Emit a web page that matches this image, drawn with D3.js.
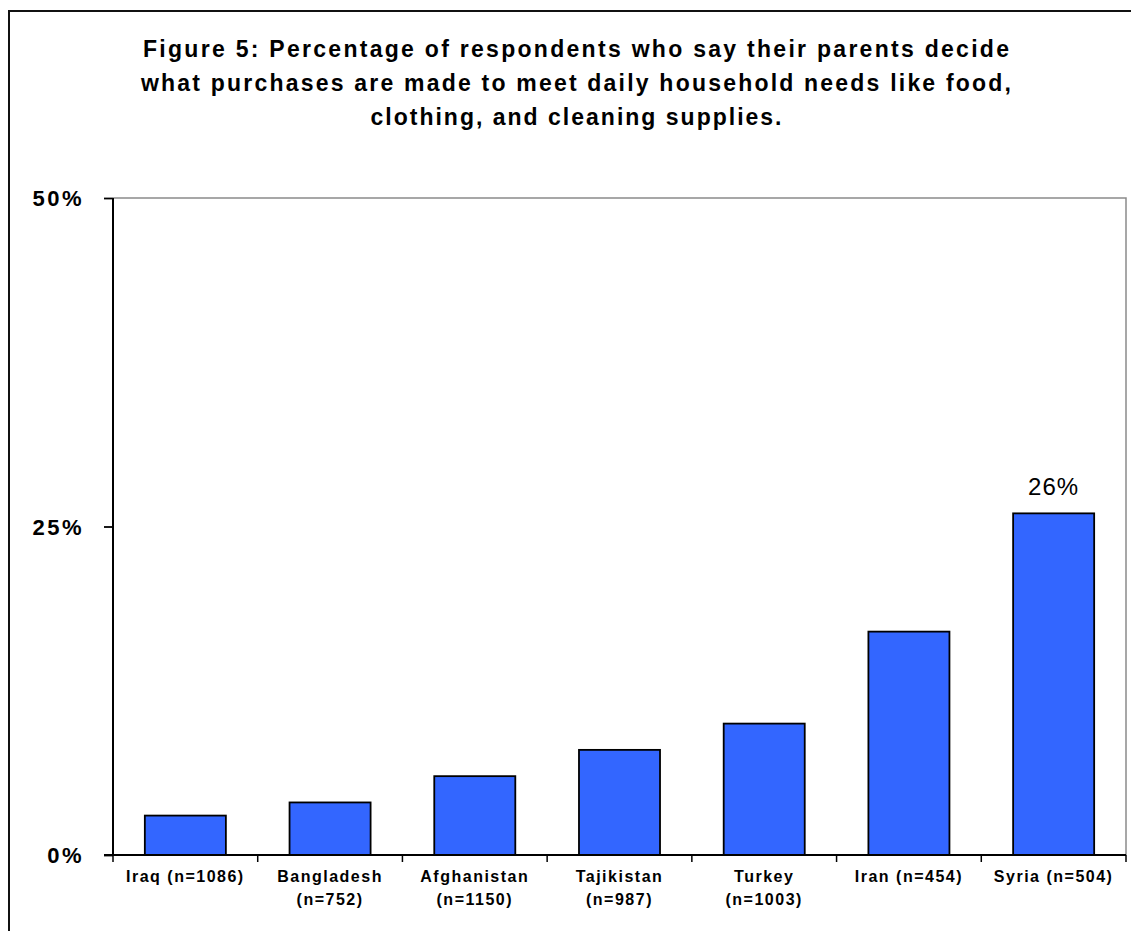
<!DOCTYPE html>
<html>
<head>
<meta charset="utf-8">
<script src="https://cdn.jsdelivr.net/npm/d3@7"></script>
<style>
  html, body { margin: 0; padding: 0; background: #fff; }
  svg { display: block; font-family: "Liberation Sans", Arial, Helvetica, sans-serif; }
</style>
</head>
<body>
<svg id="chart" width="1131" height="931"></svg>
<script>
// Chart data
const titleLines = [
  "Figure 5:  Percentage of respondents who say their parents decide",
  "what purchases are made to meet daily household needs like food,",
  "clothing, and cleaning supplies."
];
const categories = ["Iraq", "Bangladesh", "Afghanistan", "Tajikistan", "Turkey", "Iran", "Syria"];
const categoryLabels = [
  ["Iraq (n=1086)"],
  ["Bangladesh", "(n=752)"],
  ["Afghanistan", "(n=1150)"],
  ["Tajikistan", "(n=987)"],
  ["Turkey", "(n=1003)"],
  ["Iran (n=454)"],
  ["Syria (n=504)"]
];
const values = [3, 4, 6, 8, 10, 17, 26];
const labelledBars = ["Syria"];
const yTicks = [0, 25, 50];

const svg = d3.select("#chart");

// Layout
const plot = { left: 113, right: 1126, top: 198, bottom: 855 };
const titleCenter = 576;
const titleWidths = [866, 870, 411];

// Outer frame (runs off the right and bottom edge)
svg.append("rect")
  .attr("x", 9).attr("y", 11)
  .attr("width", 1200).attr("height", 1000)
  .attr("fill", "none").attr("stroke", "#111").attr("stroke-width", 2);

// Title
svg.append("g").selectAll("text").data(titleLines).join("text")
  .attr("x", titleCenter)
  .attr("y", (d, i) => 57 + i * 34)
  .attr("text-anchor", "middle")
  .attr("font-size", 23)
  .attr("font-weight", "bold")
  .attr("fill", "#000")
  .attr("textLength", (d, i) => titleWidths[i])
  .attr("lengthAdjust", "spacing")
  .text(d => d);

// Scales
const x = d3.scaleBand()
  .domain(categories)
  .range([plot.left, plot.right])
  .paddingInner(0.44)
  .paddingOuter(0.22);

const y = d3.scaleLinear()
  .domain([0, 50])
  .range([plot.bottom, plot.top]);

// Plot area border (top and right, grey)
svg.append("path")
  .attr("d", `M${plot.left},${plot.top}H${plot.right}V${plot.bottom}`)
  .attr("fill", "none").attr("stroke", "#8a8a8a").attr("stroke-width", 1.5);

// Bars
svg.append("g").selectAll("rect").data(categories).join("rect")
  .attr("x", d => x(d))
  .attr("y", (d, i) => y(values[i]))
  .attr("width", x.bandwidth())
  .attr("height", (d, i) => y(0) - y(values[i]))
  .attr("fill", "#3366ff")
  .attr("stroke", "#000")
  .attr("stroke-width", 1.8);

// Value label
svg.append("g").selectAll("text")
  .data(categories.map((c, i) => ({ c, v: values[i] })).filter(d => labelledBars.includes(d.c)))
  .join("text")
  .attr("x", d => x(d.c) + x.bandwidth() / 2)
  .attr("y", d => y(d.v) - 18)
  .attr("text-anchor", "middle")
  .attr("font-size", 24)
  .attr("letter-spacing", 1)
  .attr("fill", "#000")
  .text(d => d.v + "%");

// Y axis
const yAxis = svg.append("g")
  .attr("transform", `translate(${plot.left},0)`)
  .call(d3.axisLeft(y).tickValues(yTicks).tickSize(9).tickPadding(20).tickFormat(d => d + "%"));
yAxis.select(".domain").attr("stroke", "#000").attr("stroke-width", 2)
  .attr("d", `M0,${plot.top}V${plot.bottom}`);
yAxis.selectAll(".tick line").attr("stroke", "#000").attr("stroke-width", 1.8);
yAxis.selectAll(".tick text")
  .attr("font-size", 22).attr("font-weight", "bold").attr("fill", "#000")
  .attr("font-family", "\"Liberation Sans\", Arial, sans-serif")
  .attr("letter-spacing", 2.5)
  .attr("dy", "0.35em");

// X axis line
svg.append("line")
  .attr("x1", plot.left - 9).attr("x2", plot.right)
  .attr("y1", plot.bottom).attr("y2", plot.bottom)
  .attr("stroke", "#000").attr("stroke-width", 2);

// Category boundary ticks
const step = x.step();
const boundaries = categories.map(c => x(c) - (step - x.bandwidth()) / 2).concat([plot.right]);
svg.append("g").selectAll("line").data(boundaries).join("line")
  .attr("x1", d => d).attr("x2", d => d)
  .attr("y1", plot.bottom).attr("y2", plot.bottom + 7)
  .attr("stroke", "#000").attr("stroke-width", 1.5);

// Category labels
const xl = svg.append("g").selectAll("text").data(categories).join("text")
  .attr("x", d => x(d) + x.bandwidth() / 2)
  .attr("y", plot.bottom + 27)
  .attr("text-anchor", "middle")
  .attr("font-size", 16)
  .attr("font-weight", "bold")
  .attr("letter-spacing", 1.5)
  .attr("fill", "#000");
xl.selectAll("tspan").data((d, i) => categoryLabels[i]).join("tspan")
  .attr("x", function() { return d3.select(this.parentNode).attr("x"); })
  .attr("dy", (d, j) => j === 0 ? 0 : 23)
  .text(d => d);
</script>
</body>
</html>
